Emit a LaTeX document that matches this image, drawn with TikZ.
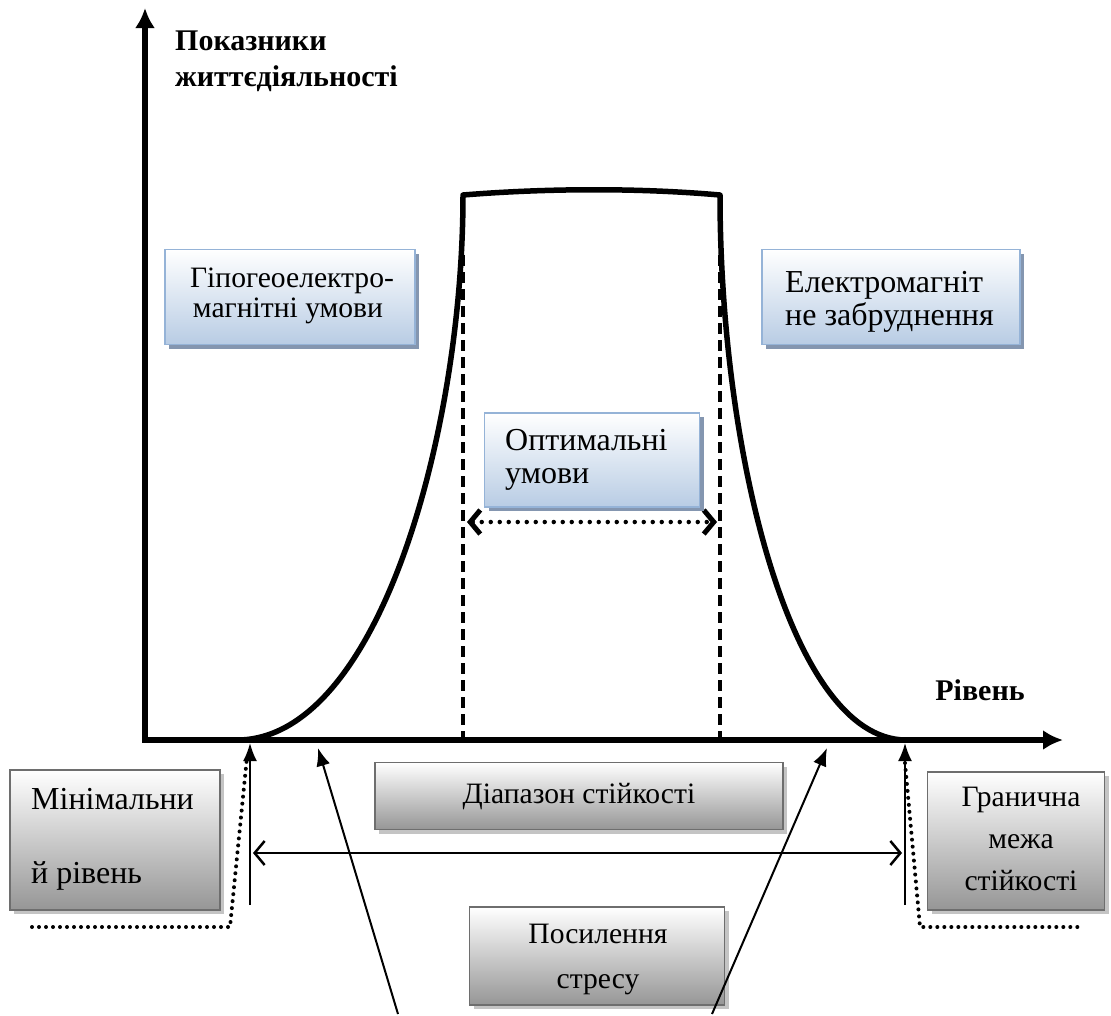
\documentclass[tikz,border=0pt]{standalone}
\usepackage{fontspec}
\setmainfont{Liberation Serif}
\usetikzlibrary{arrows.meta,shadows}
\definecolor{bborder}{HTML}{95B3D7}
\definecolor{bbottom}{HTML}{B8CCE4}
\definecolor{bshadow}{HTML}{8496B0}
\definecolor{gborder}{HTML}{6E6E6E}
\definecolor{gbottom}{HTML}{969696}
\definecolor{gshadow}{HTML}{C4C4C4}
\begin{document}
\begin{tikzpicture}[x=1pt,y=-1pt,
  fonta/.style={font=\fontsize{29.6}{30}\selectfont,inner sep=0pt,anchor=base},
  fontb/.style={font=\fontsize{32}{33}\selectfont,inner sep=0pt,anchor=base},
  bluebox/.style={draw=bborder,line width=1.5pt,top color=white,bottom color=bbottom,
    drop shadow={shadow xshift=4pt,shadow yshift=-4pt,fill=bshadow,opacity=1},inner sep=0pt},
  graybox/.style={draw=gborder,line width=1.5pt,top color=white,bottom color=gbottom,
    drop shadow={shadow xshift=4pt,shadow yshift=-4pt,fill=gshadow,opacity=1},inner sep=0pt},
  axisline/.style={line width=6pt,{Latex[length=20pt,width=20pt]}-{Latex[length=20pt,width=20pt]}},
  curveline/.style={line width=5.5pt,line join=round},
  dashline/.style={line width=3.5pt,dash pattern=on 11pt off 6pt},
  dotarrow/.style={line width=4.5pt,line cap=round,dash pattern=on 0pt off 9pt,
    {Straight Barb[length=10pt,width=24pt,line width=5pt]}-{Straight Barb[length=10pt,width=24pt,line width=5pt]}},
  thinarrow/.style={line width=2pt,-{Latex[length=18pt,width=14pt]}},
  rangearrow/.style={line width=2.5pt,{Straight Barb[length=10pt,width=24pt,line width=2.5pt]}-{Straight Barb[length=10pt,width=24pt,line width=2.5pt]}},
  dotline/.style={line width=4pt,line cap=round,dash pattern=on 0pt off 7pt},
  boldlabel/.style={font=\fontsize{30}{35}\selectfont\bfseries,inner sep=0pt,anchor=base west}
]
\useasboundingbox (0,0) rectangle (1111,1015);

% axes
\coordinate (ytip) at (145,8);
\coordinate (O) at (145,740);
\coordinate (xtip) at (1063,740);
\draw[axisline] (ytip) -- (O) -- (xtip);

\node[boldlabel] (ylabel1) at (175,50) {Показники};
\node[boldlabel] (ylabel2) at (175,86) {життєдіяльності};
\node[boldlabel,anchor=base] (xlabel) at (980,700) {Рівень};

% dashed verticals
\coordinate (dLt) at (463,255);
\coordinate (dLb) at (463,740);
\coordinate (dRt) at (720,255);
\coordinate (dRb) at (720,740);
\draw[dashline] (dLt) -- (dLb);
\draw[dashline] (dRt) -- (dRb);

% curve
\coordinate (L0) at (240,740);
\coordinate (LT) at (463,195);
\coordinate (RT) at (720,195);
\coordinate (R0) at (905,740);
\draw[curveline] (L0) .. controls (380,735) and (463,430) .. (LT)
  .. controls (550,188) and (640,188) .. (RT)
  .. controls (720,450) and (790,738) .. (R0);

% optimal range arrow
\coordinate (oL) at (467,522);
\coordinate (oR) at (717,522);
\draw[dotarrow] (oL) -- (oR);

% blue boxes
\node[bluebox,minimum width=250pt,minimum height=95pt] (hypo) at (290,297) {};
\node[fonta] (hypo1) at (292,287) {Гіпогеоелектро-};
\node[fonta] (hypo2) at (288,317) {магнітні умови};

\node[bluebox,minimum width=258pt,minimum height=95pt] (electro) at (891,297) {};
\node[fontb,anchor=base west] (electro1) at (785,292) {Електромагніт};
\node[fontb,anchor=base west] (electro2) at (785,325) {не забруднення};

\node[bluebox,minimum width=215pt,minimum height=94pt] (opt) at (592,460) {};
\node[fontb,anchor=base west] (opt1) at (505,450) {Оптимальні};
\node[fontb,anchor=base west] (opt2) at (505,483) {умови};

% gray boxes
\node[graybox,minimum width=210pt,minimum height=140pt] (minb) at (115,840) {};
\node[fontb,anchor=base west] (min1) at (31,809) {Мінімальни};
\node[fontb,anchor=base west] (min2) at (31,883) {й рівень};

\node[graybox,minimum width=408pt,minimum height=67pt] (diap) at (579,796) {};
\node[fonta] (diap1) at (579,803) {Діапазон стійкості};

\node[graybox,minimum width=177pt,minimum height=138pt] (gran) at (1016,841) {};
\node[fonta] (gran1) at (1021,806) {Гранична};
\node[fonta] (gran2) at (1021,848) {межа};
\node[fonta] (gran3) at (1021,890) {стійкості};

\node[graybox,minimum width=255pt,minimum height=98pt] (stress) at (597,956) {};
\node[fonta] (stress1) at (598,943) {Посилення};
\node[fonta] (stress2) at (598,988) {стресу};

% limit arrows
\coordinate (mL) at (250,905);
\coordinate (mLt) at (250,743);
\coordinate (mR) at (905,905);
\coordinate (mRt) at (905,743);
\draw[thinarrow] (mL) -- (mLt);
\draw[thinarrow] (mR) -- (mRt);

\coordinate (rL) at (253,853);
\coordinate (rR) at (902,853);
\draw[rangearrow] (rL) -- (rR);

% dotted leaders
\coordinate (pL1) at (32,927);
\coordinate (pL2) at (230,927);
\coordinate (pL3) at (247,757);
\draw[dotline] (pL1) -- (pL2) -- (pL3);
\coordinate (pR1) at (905,763);
\coordinate (pR2) at (920,927);
\coordinate (pR3) at (1080,927);
\draw[dotline] (pR1) -- (pR2) -- (pR3);

% stress arrows
\coordinate (sL) at (398,1014);
\coordinate (sLt) at (318,748);
\coordinate (sR) at (712,1014);
\coordinate (sRt) at (827,748);
\draw[thinarrow] (sL) -- (sLt);
\draw[thinarrow] (sR) -- (sRt);
\end{tikzpicture}
\end{document}
